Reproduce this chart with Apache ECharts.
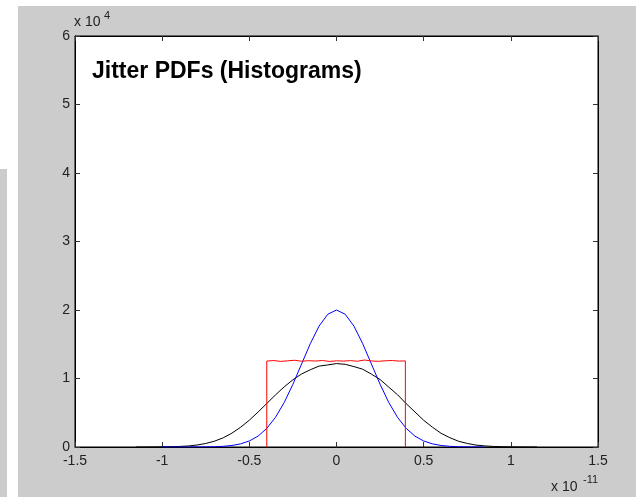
<!DOCTYPE html>
<html>
<head>
<meta charset="utf-8">
<script src="https://cdn.jsdelivr.net/npm/echarts@6/dist/echarts.min.js"></script>
<style>
  html, body { margin: 0; padding: 0; background: #fff; }
  #chart { width: 636px; height: 497px; }
</style>
</head>
<body>
<div id="chart"></div>
<script>
// x in units of 1e-11, y in units of 1e4
const blackX = [-1.15, -1.1, -1.05, -1.0, -0.95, -0.9, -0.85, -0.8, -0.75, -0.7, -0.65, -0.6, -0.55, -0.5,
  -0.45, -0.4, -0.35, -0.3, -0.25, -0.2, -0.15, -0.1, -0.05, 0, 0.05, 0.1, 0.15, 0.2, 0.25, 0.3, 0.35,
  0.4, 0.45, 0.5, 0.55, 0.6, 0.65, 0.7, 0.75, 0.8, 0.85, 0.9, 0.95, 1.0, 1.05, 1.1, 1.15];
const blackY = [0.000, 0.000, 0.001, 0.002, 0.004, 0.008, 0.015, 0.029, 0.051, 0.085, 0.134, 0.202, 0.288, 0.392,
  0.510, 0.635, 0.760, 0.878, 0.981, 1.067, 1.128, 1.181, 1.198, 1.218, 1.207, 1.174, 1.136, 1.064, 0.985, 0.874,
  0.763, 0.632, 0.512, 0.390, 0.290, 0.200, 0.136, 0.084, 0.052, 0.028, 0.016, 0.008, 0.004, 0.002, 0.001, 0.000, 0.000];

const blueX = [-1.0, -0.95, -0.9, -0.85, -0.8, -0.75, -0.7, -0.65, -0.6, -0.55, -0.5, -0.45, -0.4, -0.35,
  -0.3, -0.25, -0.2, -0.15, -0.1, -0.05, 0, 0.05, 0.1, 0.15, 0.2, 0.25, 0.3, 0.35, 0.4, 0.45, 0.5, 0.55,
  0.6, 0.65, 0.7, 0.75, 0.8, 0.85];
const blueY = [0, 0, 0, 0, 0.001, 0.002, 0.004, 0.010, 0.022, 0.046, 0.088, 0.159, 0.271, 0.433,
  0.649, 0.916, 1.213, 1.510, 1.765, 1.938, 2.000, 1.938, 1.765, 1.510, 1.213, 0.916, 0.649, 0.433,
  0.271, 0.159, 0.088, 0.046, 0.022, 0.010, 0.004, 0.002, 0.001, 0];

const redX = [-0.4, -0.4, -0.36, -0.32, -0.28, -0.24, -0.2, -0.16, -0.12, -0.08, -0.04, 0, 0.04, 0.08,
  0.12, 0.16, 0.2, 0.24, 0.28, 0.32, 0.36, 0.395, 0.395];
const redY = [0, 1.255, 1.262, 1.250, 1.258, 1.266, 1.252, 1.260, 1.255, 1.263, 1.249, 1.258, 1.254, 1.261,
  1.252, 1.270, 1.256, 1.251, 1.259, 1.262, 1.254, 1.257, 0];

const xTicks = { min: -1.5, max: 1.5, interval: 0.5 };
const yTicks = { min: 0, max: 6, interval: 1 };

const pairs = (xs, ys) => xs.map((x, i) => [x, ys[i]]);
const font = '"Liberation Sans", Arial, sans-serif';

const chart = echarts.init(document.getElementById('chart'));

function axisBase(extra) {
  return Object.assign({
    type: 'value',
    axisLine: { show: true, onZero: false, lineStyle: { color: '#000', width: 1 } },
    axisTick: { show: true, inside: true, length: 5, lineStyle: { color: '#333' } },
    splitLine: { show: false },
    axisLabel: { show: false }
  }, extra);
}

const option = {
  animation: false,
  backgroundColor: '#fff',
  grid: {
    left: 75, top: 36, right: 38, bottom: 50,
    show: true, backgroundColor: '#fff', borderColor: '#000', borderWidth: 1
  },
  xAxis: [
    axisBase(Object.assign({ position: 'bottom' }, xTicks, { axisLabel: { color: '#222', fontFamily: font, fontSize: 14, margin: 7 } })),
    axisBase(Object.assign({ position: 'top' }, xTicks))
  ],
  yAxis: [
    axisBase(Object.assign({ position: 'left' }, yTicks, { axisLabel: { color: '#222', fontFamily: font, fontSize: 14, margin: 5 } })),
    axisBase(Object.assign({ position: 'right' }, yTicks))
  ],
  graphic: [
    { type: 'rect', silent: true, z: -10, shape: { x: 18, y: 6, width: 618, height: 491 }, style: { fill: '#cccccc' } },
    { type: 'rect', silent: true, z: -10, shape: { x: 0, y: 169, width: 7, height: 328 }, style: { fill: '#cccccc' } },
    { type: 'text', left: 92, top: 60, z: 10, style: { text: 'Jitter PDFs (Histograms)', fontFamily: font, fontWeight: 'bold', fontSize: 23, fill: '#000' } },
    { type: 'text', left: 74, top: 15, style: { text: 'x 10', fontFamily: font, fontSize: 14, fill: '#222' } },
    { type: 'text', left: 104, top: 10, style: { text: '4', fontFamily: font, fontSize: 11, fill: '#222' } },
    { type: 'text', left: 551, top: 480, style: { text: 'x 10', fontFamily: font, fontSize: 14, fill: '#222' } },
    { type: 'text', left: 583, top: 474, style: { text: '-11', fontFamily: font, fontSize: 11, fill: '#222' } }
  ],
  series: [
    { type: 'line', data: pairs(blackX, blackY), showSymbol: false, lineStyle: { color: '#000', width: 1 } },
    { type: 'line', data: pairs(blueX, blueY), showSymbol: false, lineStyle: { color: '#0000ff', width: 1 } },
    { type: 'line', data: pairs(redX, redY), showSymbol: false, lineStyle: { color: '#ff0000', width: 1 } }
  ]
};

chart.setOption(option);
</script>
</body>
</html>
